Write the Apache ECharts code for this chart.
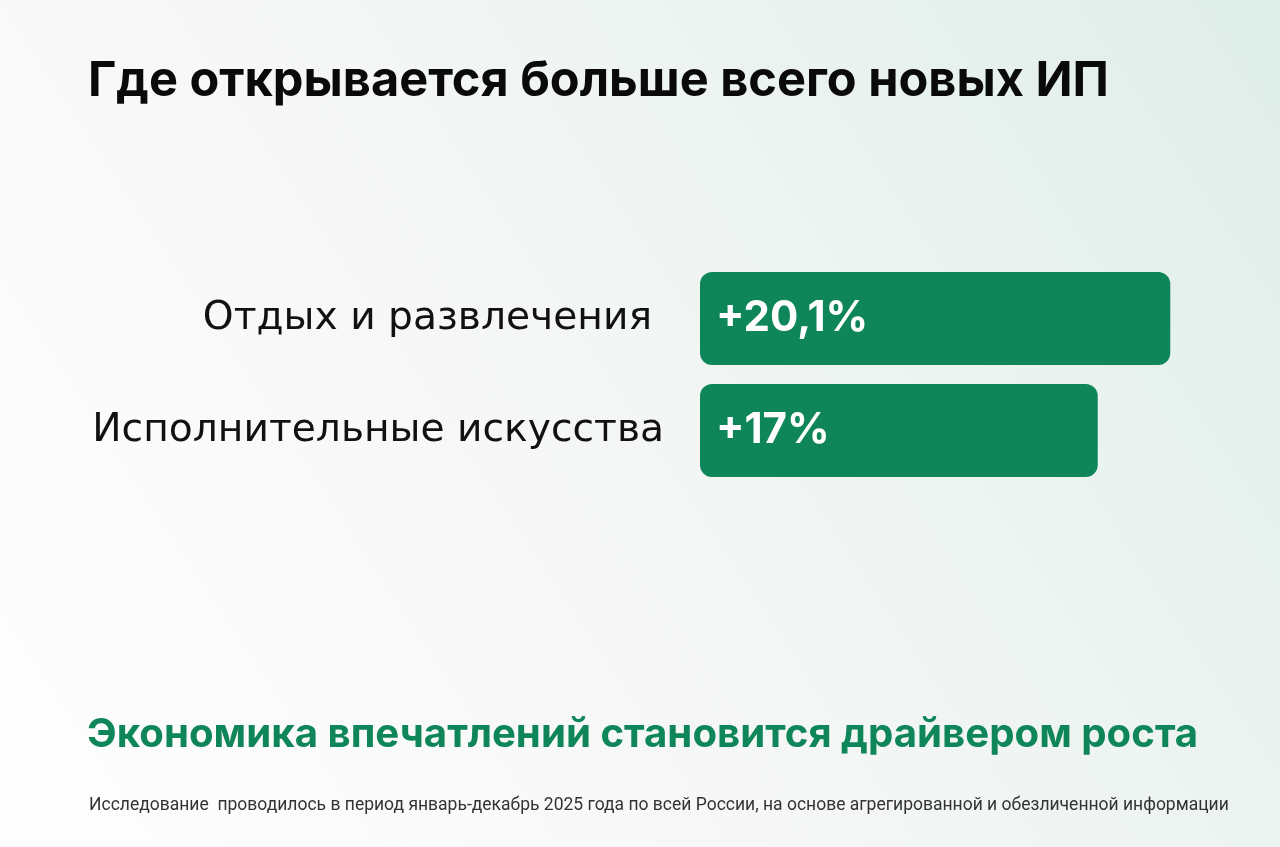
<!DOCTYPE html>
<html lang="ru">
<head>
<meta charset="utf-8">
<title>Где открывается больше всего новых ИП</title>
<script src="https://cdn.jsdelivr.net/npm/echarts@6/dist/echarts.min.js"></script>
<style>
  html, body { margin: 0; padding: 0; }
  #chart { width: 1280px; height: 847px; }
</style>
</head>
<body>
<div id="chart"></div>
<script>
const categories = ['Отдых и развлечения', 'Исполнительные искусства'];
const growthValues = [20.1, 17];
const valueLabels = ['+20,1%', '+17%'];

const titleText = 'Где открывается больше всего новых ИП';
const subtitleText = 'Экономика впечатлений становится драйвером роста';
const noteText = 'Исследование  проводилось в период январь-декабрь 2025 года по всей России, на основе агрегированной и обезличенной информации';

const green = '#0f8659';

const chart = echarts.init(document.getElementById('chart'), null, { renderer: 'canvas' });

chart.setOption({
  backgroundColor: {
    type: 'linear',
    x: 0, y: 1, x2: 1, y2: 0,
    colorStops: [
      { offset: 0, color: '#fefefe' },
      { offset: 0.45, color: '#f5f7f6' },
      { offset: 1, color: '#dfeee8' }
    ]
  },
  animation: false,
  title: [
    {
      text: titleText,
      left: 83,
      top: 52,
      textStyle: { fontFamily: 'Inter', fontWeight: 700, fontSize: 48.7, color: '#0a0a0a' }
    },
    {
      text: subtitleText,
      left: 82,
      top: 710,
      textStyle: { fontFamily: 'Inter', fontWeight: 700, fontSize: 40.2, color: green }
    },
    {
      text: noteText,
      left: 84,
      top: 792,
      textStyle: { fontFamily: 'Roboto', fontWeight: 400, fontSize: 17.5, color: '#333333' }
    }
  ],
  grid: {
    left: 700,
    top: 262.5,
    width: 561.5,
    height: 224,
    containLabel: false
  },
  xAxis: {
    type: 'value',
    min: 0,
    max: 24,
    show: false
  },
  yAxis: {
    type: 'category',
    data: categories,
    inverse: true,
    axisLine: { show: false },
    axisTick: { show: false },
    splitLine: { show: false },
    axisLabel: {
      margin: 36,
      fontFamily: 'DejaVu Sans',
      fontSize: 39.2,
      color: '#111111',
      formatter: (value, index) => (index === 0 ? `{a|${value}}` : `{b|${value}}`),
      rich: {
        a: { fontFamily: 'DejaVu Sans', fontSize: 39.2, color: '#111111', padding: [0, 12, 0, 0] },
        b: { fontFamily: 'DejaVu Sans', fontSize: 39.2, color: '#111111' }
      }
    }
  },
  series: [
    {
      type: 'bar',
      data: growthValues,
      barWidth: 93,
      itemStyle: { color: green, borderRadius: 12 },
      label: {
        show: true,
        position: 'insideLeft',
        distance: 16,
        fontFamily: 'Inter',
        fontWeight: 700,
        fontSize: 42,
        color: '#ffffff',
        formatter: (p) => valueLabels[p.dataIndex]
      }
    }
  ]
});
</script>
</body>
</html>
